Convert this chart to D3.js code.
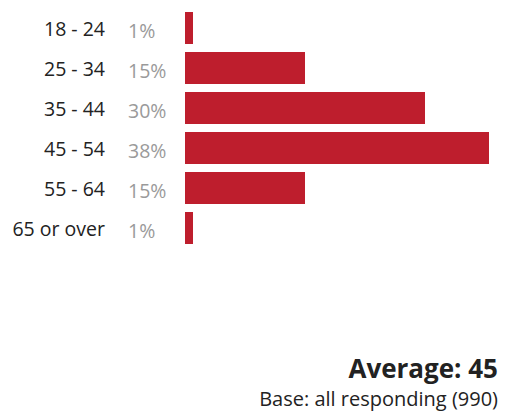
<!DOCTYPE html>
<html>
<head>
<meta charset="utf-8">
<script src="https://cdn.jsdelivr.net/npm/d3@7"></script>
<style>
  html, body { margin: 0; padding: 0; background: #fff; }
  svg { display: block; font-family: "Open Sans", "Noto Sans", sans-serif; }
</style>
</head>
<body>
<svg id="chart" width="508" height="419"></svg>
<script>
// Age distribution of respondents
const ageGroups = ["18 - 24", "25 - 34", "35 - 44", "45 - 54", "55 - 64", "65 or over"];
const shares = [1, 15, 30, 38, 15, 1];
const averageAge = 45;
const baseCount = 990;

const svg = d3.select("#chart");

const x = d3.scaleLinear().domain([0, 38]).range([185, 489]);
const y = d3.scaleBand().domain(ageGroups).range([12, 244]).paddingInner(0.2).paddingOuter(0);

const rows = svg.selectAll("g.row")
  .data(ageGroups.map((g, i) => ({ group: g, value: shares[i] })))
  .join("g")
  .attr("class", "row");

rows.append("rect")
  .attr("x", x(0))
  .attr("y", d => y(d.group))
  .attr("width", d => x(d.value) - x(0))
  .attr("height", y.bandwidth())
  .attr("fill", "#be1e2d");

rows.append("text")
  .attr("x", 105)
  .attr("y", d => y(d.group) + y.bandwidth() / 2 + 7.5)
  .attr("text-anchor", "end")
  .attr("font-size", 19.5)
  .attr("fill", "#222")
  .text(d => d.group);

rows.append("text")
  .attr("x", 128)
  .attr("y", d => y(d.group) + y.bandwidth() / 2 + 9.5)
  .attr("font-size", 19.5)
  .attr("fill", "#9a9a9a")
  .text(d => d.value + "%");

svg.append("text")
  .attr("x", 498)
  .attr("y", 378)
  .attr("text-anchor", "end")
  .attr("font-size", 26)
  .attr("font-weight", "bold")
  .attr("fill", "#222")
  .text("Average: " + averageAge);

svg.append("text")
  .attr("x", 498)
  .attr("y", 406)
  .attr("text-anchor", "end")
  .attr("font-size", 20)
  .attr("fill", "#222")
  .text("Base: all responding (" + baseCount + ")");
</script>
</body>
</html>
